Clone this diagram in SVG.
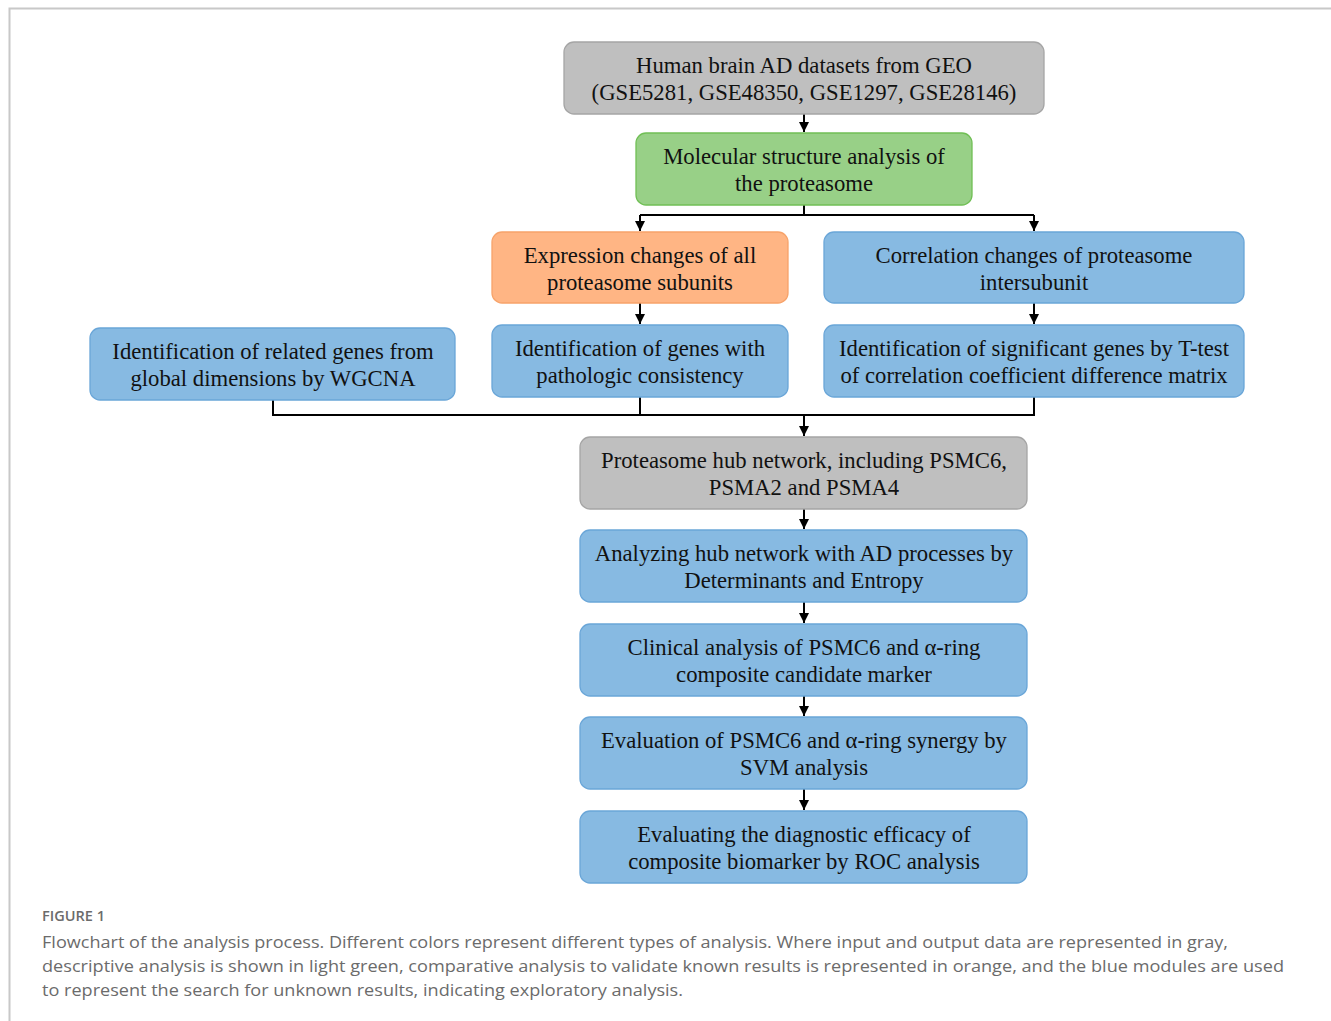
<svg xmlns="http://www.w3.org/2000/svg" width="1331" height="1021" viewBox="0 0 1331 1021">
<style>
.box{stroke-width:1.3}
.gray{fill:#bfbfbf;stroke:#a5a5a5}
.green{fill:#98d087;stroke:#70bf55}
.orange{fill:#ffb584;stroke:#f7a36a}
.blue{fill:#87bae2;stroke:#6aa6d8}
.t{font-family:"Liberation Serif",serif;font-size:22.7px;fill:#111;text-anchor:middle}
.c{fill:none;stroke:#000;stroke-width:2}
.cap{font-family:"Open Sans","Noto Sans",sans-serif;fill:#6b6b6b}
</style>
<defs>
<marker id="ah" viewBox="0 0 10 10" refX="10" refY="5" markerWidth="5" markerHeight="5" orient="auto" markerUnits="strokeWidth">
<path d="M0,0 L10,5 L0,10 z" fill="#000"/>
</marker>
</defs>
<rect width="1331" height="1021" fill="#fff"/>
<path d="M9.5,1021 V8.5 H1331" fill="none" stroke="#c8c8c8" stroke-width="2"/>

<g id="connectors">
<path class="c" d="M804,114 V132" marker-end="url(#ah)"/>
<path class="c" d="M804,205 V215"/>
<path class="c" d="M640,215 H1034"/>
<path class="c" d="M640,215 V231" marker-end="url(#ah)"/>
<path class="c" d="M1034,215 V231" marker-end="url(#ah)"/>
<path class="c" d="M640,303 V324" marker-end="url(#ah)"/>
<path class="c" d="M1034,303 V324" marker-end="url(#ah)"/>
<path class="c" d="M273,400 V415 H1034 V397"/>
<path class="c" d="M640,397 V415"/>
<path class="c" d="M804,415 V436" marker-end="url(#ah)"/>
<path class="c" d="M804,509 V529" marker-end="url(#ah)"/>
<path class="c" d="M804,602 V623" marker-end="url(#ah)"/>
<path class="c" d="M804,696 V716" marker-end="url(#ah)"/>
<path class="c" d="M804,789 V810" marker-end="url(#ah)"/>
</g>

<g id="n1"><rect class="box gray" x="564" y="42" width="480" height="72" rx="10"/>
<text class="t" x="804" y="73">Human brain AD datasets from GEO</text>
<text class="t" x="804" y="100">(GSE5281, GSE48350, GSE1297, GSE28146)</text></g>

<g id="n2"><rect class="box green" x="636" y="133" width="336" height="72" rx="10"/>
<text class="t" x="804" y="164">Molecular structure analysis of</text>
<text class="t" x="804" y="191">the proteasome</text></g>

<g id="n3"><rect class="box orange" x="492" y="232" width="296" height="71" rx="10"/>
<text class="t" x="640" y="263">Expression changes of all</text>
<text class="t" x="640" y="290">proteasome subunits</text></g>

<g id="n4"><rect class="box blue" x="824" y="232" width="420" height="71" rx="10"/>
<text class="t" x="1034" y="263">Correlation changes of proteasome</text>
<text class="t" x="1034" y="290">intersubunit</text></g>

<g id="n5"><rect class="box blue" x="90" y="328" width="365" height="72" rx="10"/>
<text class="t" x="273" y="359">Identification of related genes from</text>
<text class="t" x="273" y="386">global dimensions by WGCNA</text></g>

<g id="n6"><rect class="box blue" x="492" y="325" width="296" height="72" rx="10"/>
<text class="t" x="640" y="356">Identification of genes with</text>
<text class="t" x="640" y="383">pathologic consistency</text></g>

<g id="n7"><rect class="box blue" x="824" y="325" width="420" height="72" rx="10"/>
<text class="t" x="1034" y="356">Identification of significant genes by T-test</text>
<text class="t" x="1034" y="383">of correlation coefficient difference matrix</text></g>

<g id="n8"><rect class="box gray" x="580" y="437" width="447" height="72" rx="10"/>
<text class="t" x="804" y="468">Proteasome hub network, including PSMC6,</text>
<text class="t" x="804" y="495">PSMA2 and PSMA4</text></g>

<g id="n9"><rect class="box blue" x="580" y="530" width="447" height="72" rx="10"/>
<text class="t" x="804" y="561">Analyzing hub network with AD processes by</text>
<text class="t" x="804" y="588">Determinants and Entropy</text></g>

<g id="n10"><rect class="box blue" x="580" y="624" width="447" height="72" rx="10"/>
<text class="t" x="804" y="655">Clinical analysis of PSMC6 and α-ring</text>
<text class="t" x="804" y="682">composite candidate marker</text></g>

<g id="n11"><rect class="box blue" x="580" y="717" width="447" height="72" rx="10"/>
<text class="t" x="804" y="748">Evaluation of PSMC6 and α-ring synergy by</text>
<text class="t" x="804" y="775">SVM analysis</text></g>

<g id="n12"><rect class="box blue" x="580" y="811" width="447" height="72" rx="10"/>
<text class="t" x="804" y="842">Evaluating the diagnostic efficacy of</text>
<text class="t" x="804" y="869">composite biomarker by ROC analysis</text></g>

<g id="caption">
<text class="cap" x="42" y="921" font-size="14" font-weight="600" textLength="63" lengthAdjust="spacingAndGlyphs">FIGURE 1</text>
<text class="cap" x="42" y="948" font-size="17" textLength="1186" lengthAdjust="spacingAndGlyphs">Flowchart of the analysis process. Different colors represent different types of analysis. Where input and output data are represented in gray,</text>
<text class="cap" x="42" y="972" font-size="17" textLength="1242" lengthAdjust="spacingAndGlyphs">descriptive analysis is shown in light green, comparative analysis to validate known results is represented in orange, and the blue modules are used</text>
<text class="cap" x="42" y="996" font-size="17" textLength="641" lengthAdjust="spacingAndGlyphs">to represent the search for unknown results, indicating exploratory analysis.</text>
</g>
</svg>
